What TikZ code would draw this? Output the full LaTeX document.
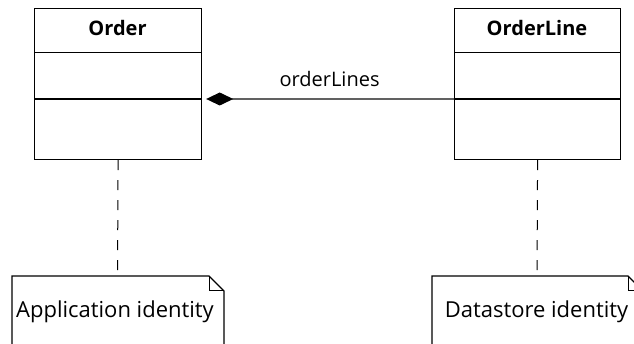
\documentclass[tikz,border=0pt]{standalone}
\usepackage{fontspec}
\setmainfont{Open Sans}
\usetikzlibrary{arrows.meta}
\tikzset{
  classbox/.style={draw=black, line width=1.2pt, minimum width=167pt, minimum height=151pt, inner sep=0pt, anchor=north west},
  classname/.style={font=\fontsize{20}{24}\selectfont\bfseries, anchor=base, inner sep=0pt},
  rolelabel/.style={font=\fontsize{20}{24}\selectfont, anchor=base, inner sep=0pt},
  notetext/.style={font=\fontsize{22}{26}\selectfont, anchor=base, inner sep=0pt},
  noteline/.style={draw=black, line width=1.2pt, line join=miter},
  anchorline/.style={draw=black, line width=1pt, dash pattern=on 10pt off 10pt},
  assoc/.style={draw=black!62, line width=1.2pt},
  sep/.style={draw=black, line width=1pt},
  septhick/.style={draw=black, line width=2pt},
}
\begin{document}
\begin{tikzpicture}[x=1pt,y=-1pt]
\useasboundingbox (0,0) rectangle (634,344);
\clip (0,0) rectangle (634,344);
% classes
\node[classbox] (order) at (34,8) {};
\node[classbox, minimum width=166pt] (orderline) at (454,8) {};
\node[classname] (ordername) at (117.5,35.7) {Order};
\node[classname] (orderlinename) at (537,35.7) {OrderLine};
\draw[sep] (order.west |- 0,53) -- (order.east |- 0,53);
\draw[septhick] (order.west |- 0,99) -- (order.east |- 0,99);
\draw[sep] (orderline.west |- 0,53) -- (orderline.east |- 0,53);
\draw[septhick] (orderline.west |- 0,99) -- (orderline.east |- 0,99);
% association
\draw[assoc, -{Diamond[length=27pt,width=13pt,color=black,fill=black]}, shorten >=4pt]
  (orderline.west |- 0,99) -- (order.east |- 0,99);
\node[rolelabel] (role) at (329.6,86.7) {orderLines};
% notes
\coordinate (appnote) at (117.5,276);
\coordinate (dsnote) at (537,276);
\draw[noteline] (12,360) -- (12,276) -- (209,276) -- (224,291) -- (224,360);
\draw[noteline, line width=1pt] (209,276) -- (209,291) -- (224,291);
\draw[noteline] (432,360) -- (432,276) -- (628,276) -- (643,291) -- (643,360);
\draw[noteline, line width=1pt] (628,276) -- (628,291) -- (643,291);
\node[notetext] (apptext) at (115,317.7) {Application identity};
\node[notetext] (dstext) at (536.5,317.3) {Datastore identity};
% anchors
\draw[anchorline] (order.south) -- (appnote);
\draw[anchorline] (orderline.south) -- (dsnote);
\end{tikzpicture}
\end{document}
